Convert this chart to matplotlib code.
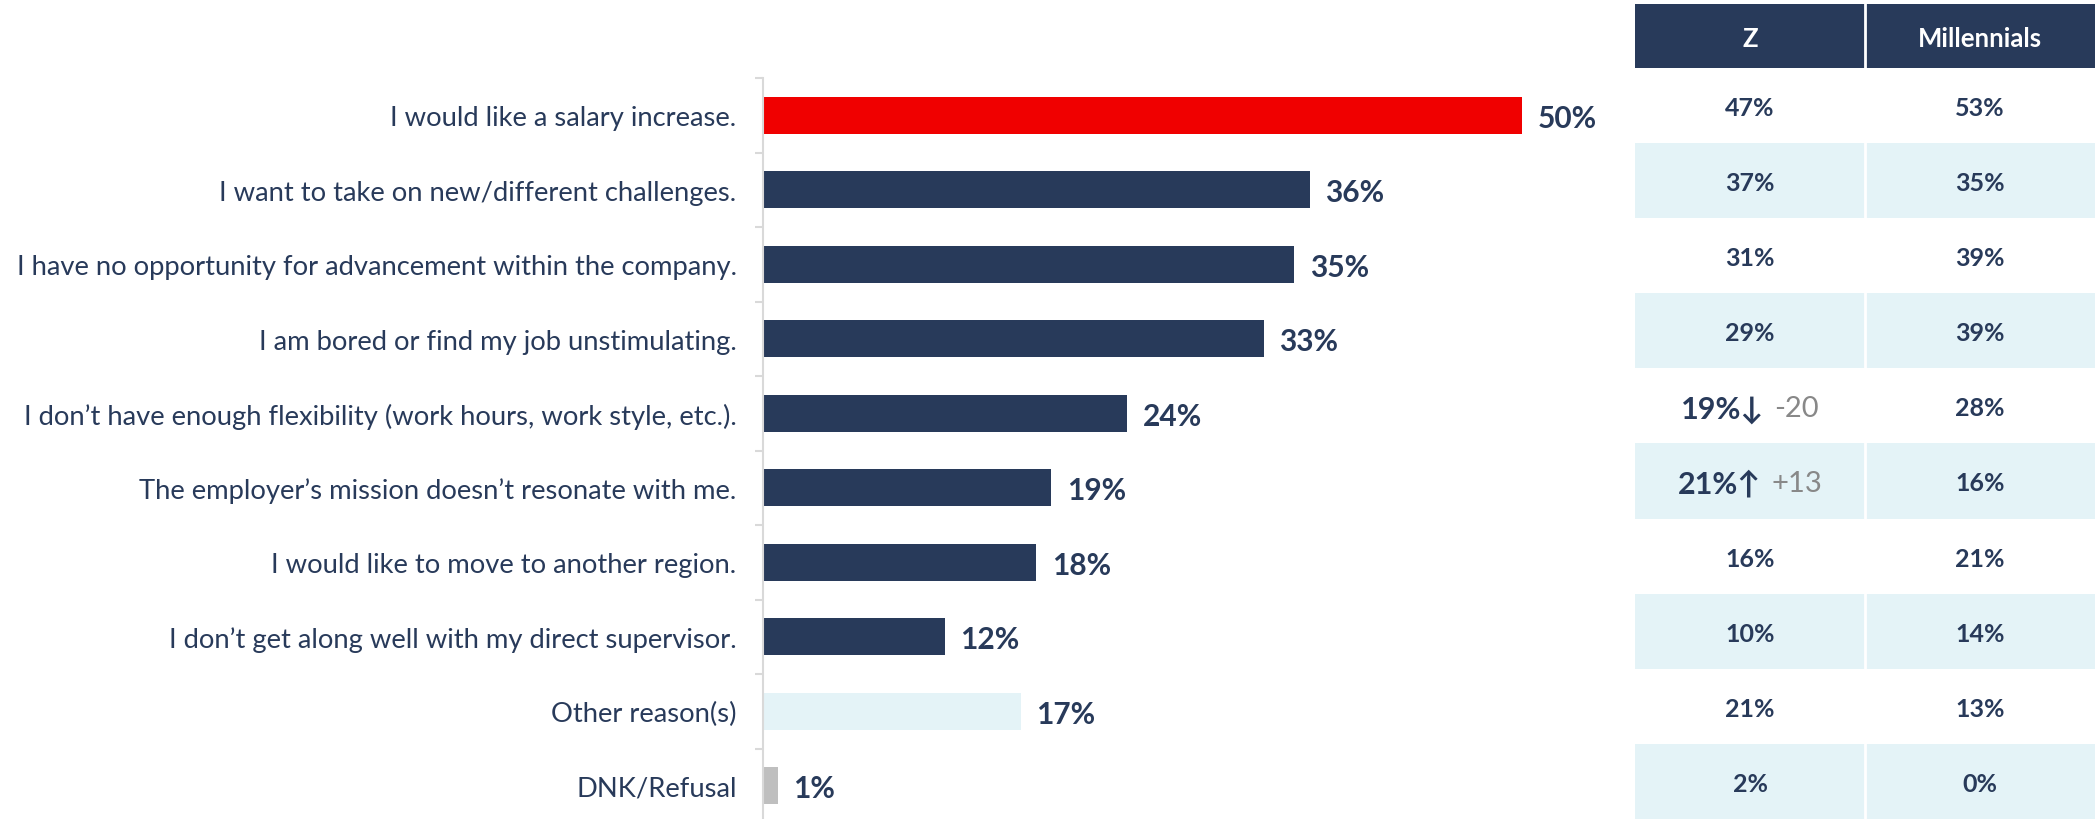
import matplotlib
matplotlib.use("Agg")
import matplotlib.pyplot as plt
from matplotlib.patches import Rectangle

# ---- data -----------------------------------------------------------------
categories = [
    "I would like a salary increase.",
    "I want to take on new/different challenges.",
    "I have no opportunity for advancement within the company.",
    "I am bored or find my job unstimulating.",
    "I don\u2019t have enough flexibility (work hours, work style, etc.).",
    "The employer\u2019s mission doesn\u2019t resonate with me.",
    "I would like to move to another region.",
    "I don\u2019t get along well with my direct supervisor.",
    "Other reason(s)",
    "DNK/Refusal",
]
overall = [50, 36, 35, 33, 24, 19, 18, 12, 17, 1]
gen_z = [47, 37, 31, 29, 19, 21, 16, 10, 21, 2]
millennials = [53, 35, 39, 39, 28, 16, 21, 14, 13, 0]
z_change = [None, None, None, None, -20, 13, None, None, None, None]
table_columns = ["Z", "Millennials"]

# ---- style ----------------------------------------------------------------
NAVY = "#283A5A"
RED = "#F00000"
PALE = "#E4F3F7"
GREY_BAR = "#BFBFBF"
AXIS_GREY = "#D9D9D9"
DELTA_GREY = "#888888"
FONT = ["Lato", "DejaVu Sans"]
plt.rcParams["font.family"] = FONT

bar_colors = [RED] + [NAVY] * 7 + [PALE, GREY_BAR]

W, H = 2095, 820
fig = plt.figure(figsize=(W / 100, H / 100), dpi=100)


def box(left, top, right, bottom):
    """Figure-fraction rectangle from pixel edges measured from the top-left."""
    return [left / W, (H - bottom) / H, (right - left) / W, (bottom - top) / H]


# ---- bar chart ------------------------------------------------------------
n = len(categories)
pos = list(range(n))
ax = fig.add_axes(box(763, 79, 1598, 824))
ax.barh(pos, overall, height=0.5, color=bar_colors)
ax.set_xlim(0, 55)
ax.set_ylim(n - 0.5, -0.5)

ax.set_yticks(pos)
ax.set_yticklabels(categories, fontsize=19.7, color=NAVY)
ax.tick_params(axis="y", which="major", length=0, pad=19)
ax.set_yticks([i + 0.5 for i in range(-1, n - 1)], minor=True)
ax.tick_params(axis="y", which="minor", length=6, width=1.5, color=AXIS_GREY)
ax.tick_params(axis="x", bottom=False, labelbottom=False)
for side in ("top", "right", "bottom"):
    ax.spines[side].set_visible(False)
ax.spines["left"].set_color(AXIS_GREY)
ax.spines["left"].set_linewidth(1.5)

for i, v in enumerate(overall):
    ax.annotate(f"{v}%", (v, i), xytext=(11, 0), textcoords="offset points",
                ha="left", va="center_baseline", fontsize=21.5,
                fontweight="bold", color=NAVY)

# ---- side table -----------------------------------------------------------
header_h = 0.85
tx = fig.add_axes(box(1635, 5, 2095, 820))
tx.set_xlim(0, 2)
tx.set_ylim(n, -header_h)
tx.axis("off")

for c, name in enumerate(table_columns):
    tx.add_patch(Rectangle((c, -header_h), 1, header_h, color=NAVY, lw=0))
    tx.text(c + 0.5, -header_h / 2, name, ha="center", va="center_baseline",
            fontsize=18.5, fontweight="bold", color="white")
for r in range(n):
    if r % 2 == 1:
        tx.add_patch(Rectangle((0, r), 2, 1, color=PALE, lw=0))
tx.axvline(1, color="white", lw=2)

fig.canvas.draw()
renderer = fig.canvas.get_renderer()
to_data = tx.transData.inverted()

for r in range(n):
    tx.text(1.5, r + 0.5, f"{millennials[r]}%", ha="center",
            va="center_baseline", fontsize=18, fontweight="bold", color=NAVY)
    if z_change[r] is None:
        tx.text(0.5, r + 0.5, f"{gen_z[r]}%", ha="center",
                va="center_baseline", fontsize=18, fontweight="bold",
                color=NAVY)
        continue
    arrow = "\u2193" if z_change[r] < 0 else "\u2191"
    main = tx.text(0.5, r + 0.5, f"{gen_z[r]}%{arrow}", ha="left",
                   va="center_baseline", fontsize=22, fontweight="bold",
                   color=NAVY)
    delta = tx.text(0.5, r + 0.5, f"{z_change[r]:+d}", ha="left",
                    va="center_baseline", fontsize=21, color=DELTA_GREY)
    w_main = main.get_window_extent(renderer).width
    w_delta = delta.get_window_extent(renderer).width
    gap = 10
    cx, cy = tx.transData.transform((0.5, r + 0.5))
    start = cx - (w_main + gap + w_delta) / 2
    main.set_position(to_data.transform((start, cy)))
    delta.set_position(to_data.transform((start + w_main + gap, cy)))

fig.savefig("out.png", dpi=100)
